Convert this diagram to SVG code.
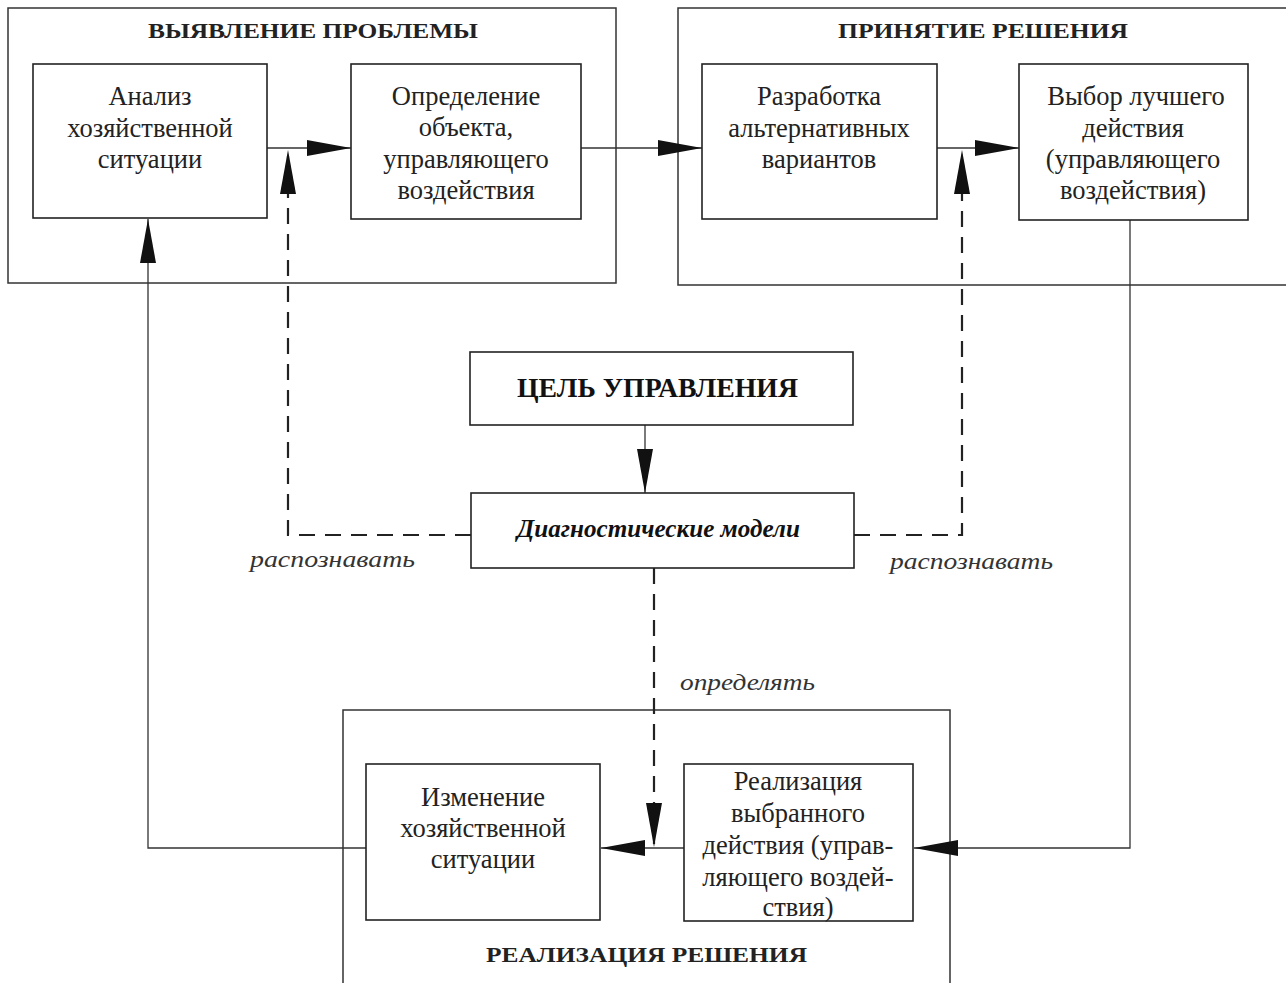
<svg xmlns="http://www.w3.org/2000/svg" width="1286" height="983" viewBox="0 0 1286 983">
<defs>
<style>
.bg{fill:#ffffff}
.box{fill:#ffffff;stroke:#222;stroke-width:1.6}
.frame{fill:none;stroke:#333;stroke-width:1.5}
.ln{fill:none;stroke:#333;stroke-width:1.3}
.dash{fill:none;stroke:#222;stroke-width:2.2;stroke-dasharray:16 10}
.t{font-family:"Liberation Serif","Times New Roman",serif;font-size:26.5px;fill:#222;text-anchor:middle}
.h{font-family:"Liberation Serif","Times New Roman",serif;font-size:20px;font-weight:bold;fill:#222}
.hb{font-family:"Liberation Serif","Times New Roman",serif;font-size:28px;font-weight:bold;fill:#111}
.it{font-family:"Liberation Serif","Times New Roman",serif;font-size:24px;font-style:italic;fill:#333}
.itb{font-family:"Liberation Serif","Times New Roman",serif;font-size:26px;font-style:italic;font-weight:bold;fill:#111}
</style>
<marker id="ah" markerUnits="userSpaceOnUse" markerWidth="46" markerHeight="18" refX="44" refY="8" orient="auto">
<path d="M0,0 L44,8 L0,16 z" fill="#111"/>
</marker>
</defs>
<rect class="bg" x="0" y="0" width="1286" height="983"/>

<g id="group-problem">
<rect class="frame" x="8" y="8" width="608" height="275"/>
<text class="h" x="148" y="38" textLength="330" lengthAdjust="spacingAndGlyphs">ВЫЯВЛЕНИЕ ПРОБЛЕМЫ</text>
</g>
<g id="group-decision">
<path class="frame" d="M1290,8 H678 V285 H1290"/>
<text class="h" x="838" y="38" textLength="290" lengthAdjust="spacingAndGlyphs">ПРИНЯТИЕ РЕШЕНИЯ</text>
</g>
<g id="group-realization">
<path class="frame" d="M343,990 V710 H950 V990"/>
<text class="h" x="486" y="962" textLength="321" lengthAdjust="spacingAndGlyphs">РЕАЛИЗАЦИЯ РЕШЕНИЯ</text>
</g>

<g id="connectors">
<line class="ln" x1="267" y1="148" x2="351" y2="148" marker-end="url(#ah)"/>
<line class="ln" x1="581" y1="148" x2="702" y2="148" marker-end="url(#ah)"/>
<line class="ln" x1="937" y1="148" x2="1019" y2="148" marker-end="url(#ah)"/>
<line class="ln" x1="645" y1="425" x2="645" y2="493" marker-end="url(#ah)"/>
<path class="dash" d="M471,535 H288 V150" marker-end="url(#ah)"/>
<path class="dash" d="M854,535 H962 V150" marker-end="url(#ah)"/>
<path class="dash" d="M654,568 V847" marker-end="url(#ah)"/>
<line class="ln" x1="684" y1="848" x2="601" y2="848" marker-end="url(#ah)"/>
<path class="ln" d="M1130,220 V848 H914" marker-end="url(#ah)"/>
<path class="ln" d="M366,848 H148 V219" marker-end="url(#ah)"/>
<text class="it" x="250" y="567" textLength="165" lengthAdjust="spacingAndGlyphs">распознавать</text>
<text class="it" x="890" y="569" textLength="163" lengthAdjust="spacingAndGlyphs">распознавать</text>
<text class="it" x="680" y="690" textLength="135" lengthAdjust="spacingAndGlyphs">определять</text>
</g>

<g id="node-analysis">
<rect class="box" x="33" y="64" width="234" height="154"/>
<text class="t" x="150" y="105">Анализ</text>
<text class="t" x="150" y="137">хозяйственной</text>
<text class="t" x="150" y="168">ситуации</text>
</g>
<g id="node-definition">
<rect class="box" x="351" y="64" width="230" height="155"/>
<text class="t" x="466" y="105">Определение</text>
<text class="t" x="466" y="136">объекта,</text>
<text class="t" x="466" y="168">управляющего</text>
<text class="t" x="466" y="199">воздействия</text>
</g>
<g id="node-alternatives">
<rect class="box" x="702" y="64" width="235" height="155"/>
<text class="t" x="819" y="105">Разработка</text>
<text class="t" x="819" y="137">альтернативных</text>
<text class="t" x="819" y="168">вариантов</text>
</g>
<g id="node-choice">
<rect class="box" x="1019" y="64" width="229" height="156"/>
<text class="t" x="1136" y="105">Выбор лучшего</text>
<text class="t" x="1133" y="137">действия</text>
<text class="t" x="1133" y="168">(управляющего</text>
<text class="t" x="1133" y="199">воздействия)</text>
</g>
<g id="node-goal">
<rect class="box" x="470" y="352" width="383" height="73"/>
<text class="hb" x="517" y="397" textLength="281" lengthAdjust="spacingAndGlyphs">ЦЕЛЬ УПРАВЛЕНИЯ</text>
</g>
<g id="node-models">
<rect class="box" x="471" y="493" width="383" height="75"/>
<text class="itb" x="517" y="537" textLength="283" lengthAdjust="spacingAndGlyphs">Диагностические модели</text>
</g>
<g id="node-change">
<rect class="box" x="366" y="764" width="234" height="156"/>
<text class="t" x="483" y="806">Изменение</text>
<text class="t" x="483" y="837">хозяйственной</text>
<text class="t" x="483" y="868">ситуации</text>
</g>
<g id="node-implement">
<rect class="box" x="684" y="764" width="229" height="157"/>
<text class="t" x="798" y="790">Реализация</text>
<text class="t" x="798" y="822">выбранного</text>
<text class="t" x="798" y="854">действия (управ-</text>
<text class="t" x="798" y="886">ляющего воздей-</text>
<text class="t" x="798" y="916">ствия)</text>
</g>
</svg>
